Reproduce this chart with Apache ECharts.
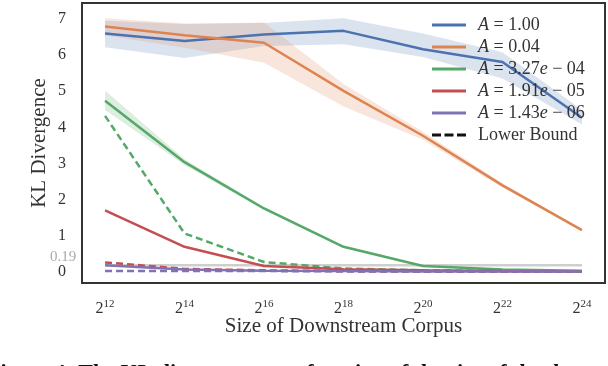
<!DOCTYPE html>
<html lang="en">
<head>
    <meta charset="UTF-8">
    <title>KL Divergence</title>
    <script src="https://cdn.jsdelivr.net/npm/echarts@6/dist/echarts.min.js"></script>
    <style>
        body { margin: 0; background: #fff; }
        #main { width: 608px; height: 366px; }
    </style>
</head>
<body>
<div id="main"></div>
<script>
    // exponents of the corpus size (2^x)
    var exps = [12, 14, 16, 18, 20, 22, 24];
    var xTicks = [12, 14, 16, 18, 20, 22, 24];
    var yTicks = [0, 1, 2, 3, 4, 5, 6, 7];
    var refValue = 0.19;

    var klA100 = [6.60, 6.39, 6.57, 6.67, 6.16, 5.81, 4.27];
    var hiA100 = [6.95, 6.86, 6.89, 7.02, 6.60, 6.08, 4.48];
    var loA100 = [6.22, 5.92, 6.25, 6.30, 5.95, 5.35, 4.08];

    var klA004 = [6.79, 6.55, 6.34, 5.01, 3.77, 2.40, 1.16];
    var hiA004 = [7.02, 6.87, 6.90, 5.20, 3.88, 2.46, 1.19];
    var loA004 = [6.55, 6.20, 5.79, 4.58, 3.66, 2.34, 1.13];

    var klA327 = [4.74, 3.04, 1.76, 0.70, 0.17, 0.07, 0.04];
    var hiA327 = [5.02, 3.12, 1.80, 0.73, 0.19, 0.08, 0.05];
    var loA327 = [4.48, 2.96, 1.72, 0.67, 0.15, 0.06, 0.03];
    var lbA327 = [4.32, 1.07, 0.28, 0.10, 0.05, 0.03, 0.02];

    var klA191 = [1.71, 0.70, 0.17, 0.08, 0.05, 0.03, 0.02];
    var lbA191 = [0.27, 0.09, 0.05, 0.03, 0.02, 0.02, 0.02];

    var klA143 = [0.19, 0.07, 0.04, 0.03, 0.02, 0.02, 0.02];
    var lbA143 = [0.03, 0.03, 0.03, 0.02, 0.02, 0.02, 0.02];

    var names = ['A = 1.00', 'A = 0.04', 'A = 3.27e − 04', 'A = 1.91e − 05', 'A = 1.43e − 06', 'Lower Bound'];
    var colors = ['#4c72b0', '#dd8452', '#55a868', '#c44e52', '#8172b3'];

    var serif = '"Liberation Serif", "DejaVu Serif", serif';
    var solidIcon = 'path://M0,0h34v3h-34z';
    var dashIcon = 'path://M0,0h9v3h-9zM12.5,0h9v3h-9zM25,0h9v3h-9z';

    function pairs(vals) {
        return exps.map(function (x, i) { return [x, vals[i]]; });
    }

    function band(hi, lo, color) {
        return {
            type: 'custom',
            silent: true,
            z: 1,
            data: [[exps[0], lo[0]]],
            renderItem: function (params, api) {
                var pts = [];
                exps.forEach(function (x, i) { pts.push(api.coord([x, hi[i]])); });
                for (var i = exps.length - 1; i >= 0; i--) pts.push(api.coord([exps[i], lo[i]]));
                return { type: 'polygon', shape: { points: pts }, style: { fill: color } };
            }
        };
    }

    function line(name, vals, color, dashed, z) {
        return {
            name: name,
            type: 'line',
            data: pairs(vals),
            symbol: 'none',
            z: z || 3,
            lineStyle: { color: color, width: 2.5, type: dashed ? [7, 4] : 'solid' },
            itemStyle: { color: color }
        };
    }

    function legendText(name) {
        if (name === 'Lower Bound') return name;
        var m = name.match(/^A = ([\d.]+)(e)?(.*)$/);
        var s = '{i|A} = ' + m[1];
        if (m[2]) s += '{i|e}' + m[3];
        return s;
    }

    var chart = echarts.init(document.getElementById('main'));
    chart.setOption({
        animation: false,
        grid: { left: 82, top: 3, right: 3, height: 280, show: true, borderColor: '#333', borderWidth: 2 },
        xAxis: {
            type: 'value',
            min: 11.42,
            max: 24.58,
            name: 'Size of Downstream Corpus',
            nameLocation: 'middle',
            nameGap: 33,
            nameMoveOverlap: false,
            nameTextStyle: { fontFamily: serif, fontSize: 21, color: '#333' },
            axisLine: { show: false },
            axisTick: { show: false },
            splitLine: { show: false },
            axisLabel: {
                customValues: xTicks,
                margin: 16,
                color: '#333',
                formatter: function (v) { return '{b|2}{s|' + v + '}'; },
                rich: {
                    b: { fontFamily: serif, fontSize: 16, lineHeight: 20, color: '#333' },
                    s: { fontFamily: serif, fontSize: 11, lineHeight: 11, verticalAlign: 'top', color: '#333' }
                }
            }
        },
        yAxis: {
            type: 'value',
            min: -0.3,
            max: 7.44,
            name: 'KL Divergence',
            nameLocation: 'middle',
            nameGap: 32,
            nameMoveOverlap: false,
            nameTextStyle: { fontFamily: serif, fontSize: 21, color: '#333' },
            axisLine: { show: false },
            axisTick: { show: false },
            splitLine: { show: false },
            axisLabel: {
                customValues: yTicks.concat([refValue]),
                align: 'center',
                margin: 20,
                formatter: function (v) {
                    return v === refValue ? '{g|' + v + '}' : '{n|' + v + '}';
                },
                rich: {
                    n: { fontFamily: serif, fontSize: 16, color: '#333' },
                    g: { fontFamily: serif, fontSize: 15, color: '#aaa', padding: [0, 0, 16, 2] }
                }
            }
        },
        legend: {
            data: names.map(function (n) {
                return { name: n, icon: n === 'Lower Bound' ? dashIcon : solidIcon };
            }),
            orient: 'vertical',
            left: 432,
            top: 16,
            itemWidth: 34,
            itemHeight: 3,
            itemGap: 4,
            padding: 0,
            selectedMode: false,
            formatter: legendText,
            textStyle: {
                fontFamily: serif, fontSize: 18, color: '#333', lineHeight: 18, padding: [0, 0, 0, 7],
                rich: { i: { fontFamily: serif, fontSize: 18, lineHeight: 18, fontStyle: 'italic', color: '#333' } }
            }
        },
        graphic: [{
            type: 'text',
            left: -13,
            top: 362,
            style: {
                text: 'Figure 4: The KL divergence as a function of the size of the downstream corpus',
                font: 'bold 22px ' + serif,
                fill: '#111'
            }
        }],
        series: [
            band(hiA100, loA100, 'rgba(76,114,176,0.2)'),
            band(hiA004, loA004, 'rgba(221,132,82,0.2)'),
            band(hiA327, loA327, 'rgba(85,168,104,0.2)'),
            {
                name: 'ref',
                type: 'line',
                data: [[exps[0], refValue], [exps[exps.length - 1], refValue]],
                symbol: 'none',
                z: 2,
                lineStyle: { color: '#cfcfcf', width: 2.5 }
            },
            line(names[0], klA100, colors[0]),
            line(names[1], klA004, colors[1]),
            line(names[2], klA327, colors[2]),
            line('lb327', lbA327, colors[2], true),
            line(names[3], klA191, colors[3]),
            line('lb191', lbA191, colors[3], true),
            line(names[4], klA143, colors[4], false, 4),
            line('lb143', lbA143, colors[4], true, 4),
            { name: 'Lower Bound', type: 'line', data: [], symbol: 'none', lineStyle: { color: '#111', width: 2.5, type: [7, 4] }, itemStyle: { color: '#111' } }
        ]
    });
</script>
</body>
</html>
